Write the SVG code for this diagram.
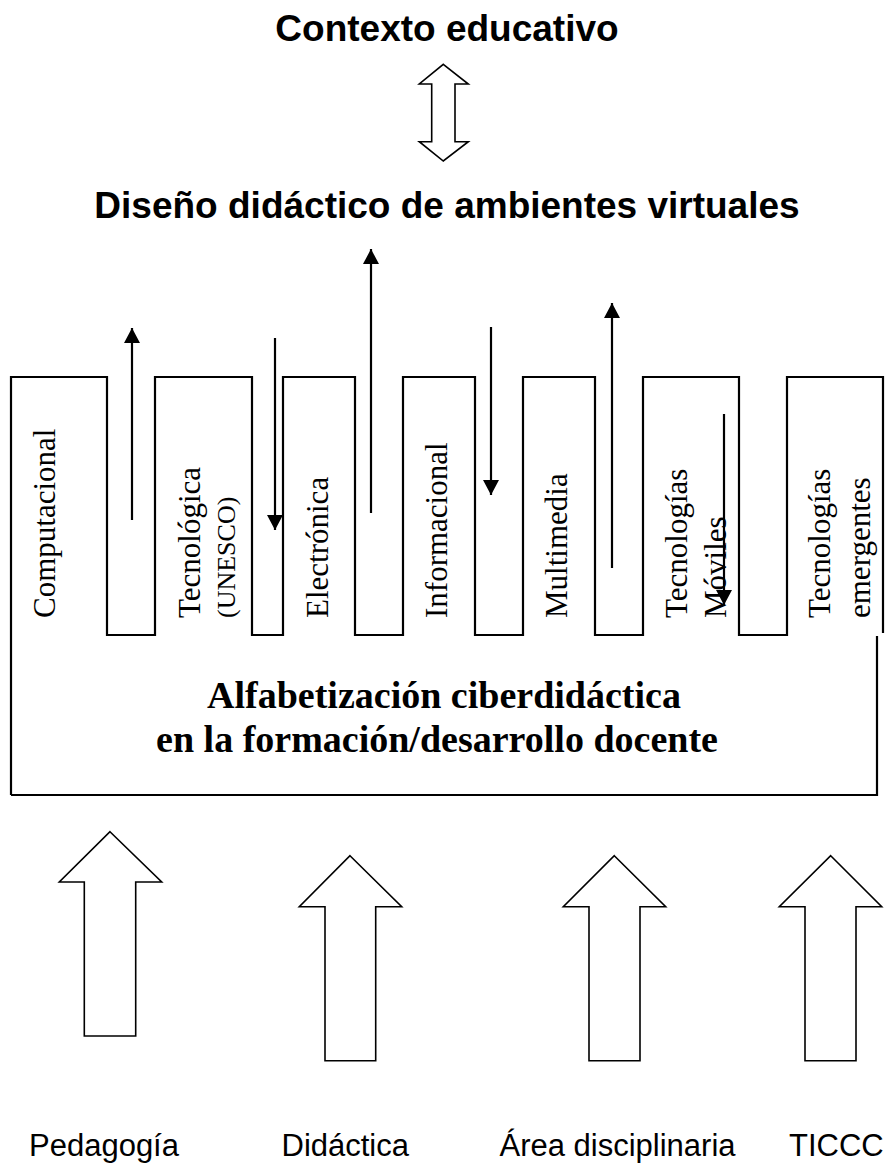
<svg xmlns="http://www.w3.org/2000/svg" width="885" height="1163" viewBox="0 0 885 1163">
<style>
.title{font-family:"Liberation Sans",Arial,sans-serif;font-weight:bold;font-size:37px;fill:#000;text-anchor:middle}
.vlab{font-family:"Liberation Serif","Times New Roman",serif;font-size:31px;fill:#000}
.vsmall{font-family:"Liberation Serif","Times New Roman",serif;font-size:26px;fill:#000}
.boxlab{font-family:"Liberation Serif","Times New Roman",serif;font-weight:bold;font-size:38px;fill:#000;text-anchor:middle}
.blab{font-family:"Liberation Sans",Arial,sans-serif;font-size:31px;fill:#000}
.outline{fill:none;stroke:#000;stroke-width:2.2}
.block{fill:#fff;stroke:#000;stroke-width:1.6;stroke-linejoin:miter}
.thin{stroke:#000;stroke-width:2.2;fill:none}
</style>
<defs>
<marker id="ah" markerUnits="userSpaceOnUse" markerWidth="16" markerHeight="16" refX="15" refY="8" orient="auto" viewBox="0 0 16 16">
<path d="M0,0 L15,8 L0,16 z" fill="#000"/>
</marker>
</defs>

<g id="title-contexto">
<text class="title" x="447" y="41">Contexto educativo</text>
</g>
<g id="double-arrow">
<polygon class="block" points="443.3,64.3 468.3,84 455,84 455,141.7 468.3,141.7 443.3,161 419.3,141.7 431.7,141.7 431.7,84 419.3,84"/>
</g>
<g id="title-diseno">
<text class="title" x="447" y="218">Diseño didáctico de ambientes virtuales</text>
</g>

<g id="comb">
<path class="outline" d="M11,795 L11,377 L107,377 L107,635 L155,635 L155,377 L252,377 L252,635 L283,635 L283,377 L355,377 L355,635 L403,635 L403,377 L475,377 L475,635 L523,635 L523,377 L595,377 L595,635 L643,635 L643,377 L739,377 L739,635 L787,635 L787,377 L883,377 L883,633"/>
<path class="outline" d="M877,636 L877,795 L11,795"/>
</g>

<g id="label-computacional"><text class="vlab" transform="translate(55,618) rotate(-90)">Computacional</text></g>
<g id="label-tecnologica">
<text class="vlab" transform="translate(200,618) rotate(-90)">Tecnológica</text>
<text class="vsmall" transform="translate(235,618) rotate(-90)">(UNESCO)</text>
</g>
<g id="label-electronica"><text class="vlab" transform="translate(328,618) rotate(-90)">Electrónica</text></g>
<g id="label-informacional"><text class="vlab" transform="translate(447,618) rotate(-90)">Informacional</text></g>
<g id="label-multimedia"><text class="vlab" transform="translate(567,618) rotate(-90)">Multimedia</text></g>
<g id="label-moviles">
<text class="vlab" transform="translate(687,618) rotate(-90)">Tecnologías</text>
<text class="vlab" transform="translate(726,618) rotate(-90)">Móviles</text>
</g>
<g id="label-emergentes">
<text class="vlab" transform="translate(830,618) rotate(-90)">Tecnologías</text>
<text class="vlab" transform="translate(870,618) rotate(-90)">emergentes</text>
</g>

<g id="label-alfabetizacion">
<text class="boxlab" x="444" y="708">Alfabetización ciberdidáctica</text>
<text class="boxlab" x="437" y="752">en la formación/desarrollo docente</text>
</g>

<g id="connectors">
<line class="thin" x1="132" y1="520" x2="132" y2="328" marker-end="url(#ah)"/>
<line class="thin" x1="275" y1="338" x2="275" y2="530" marker-end="url(#ah)"/>
<line class="thin" x1="371" y1="513" x2="371" y2="249" marker-end="url(#ah)"/>
<line class="thin" x1="491" y1="327" x2="491" y2="495" marker-end="url(#ah)"/>
<line class="thin" x1="612" y1="568" x2="612" y2="303" marker-end="url(#ah)"/>
<line class="thin" x1="724" y1="414" x2="724" y2="605" marker-end="url(#ah)"/>
</g>

<g id="arrow-pedagogia">
<polygon class="block" points="110,831.7 161.7,882 135.7,882 135.7,1036 84.3,1036 84.3,882 59.3,882"/>
<text class="blab" x="29" y="1156">Pedagogía</text>
</g>
<g id="arrow-didactica">
<polygon class="block" points="350,855.7 401.7,906.7 375.7,906.7 375.7,1060.7 325,1060.7 325,906.7 299.3,906.7"/>
<text class="blab" x="281.5" y="1156">Didáctica</text>
</g>
<g id="arrow-area">
<polygon class="block" points="614.3,855.7 665.7,906.7 640,906.7 640,1060.7 589,1060.7 589,906.7 563.3,906.7"/>
<text class="blab" x="499.5" y="1156">Área disciplinaria</text>
</g>
<g id="arrow-ticcc">
<polygon class="block" points="830.7,855.7 881.7,906.7 856,906.7 856,1060.7 805,1060.7 805,906.7 779.3,906.7"/>
<text class="blab" x="789" y="1156">TICCC</text>
</g>
</svg>
